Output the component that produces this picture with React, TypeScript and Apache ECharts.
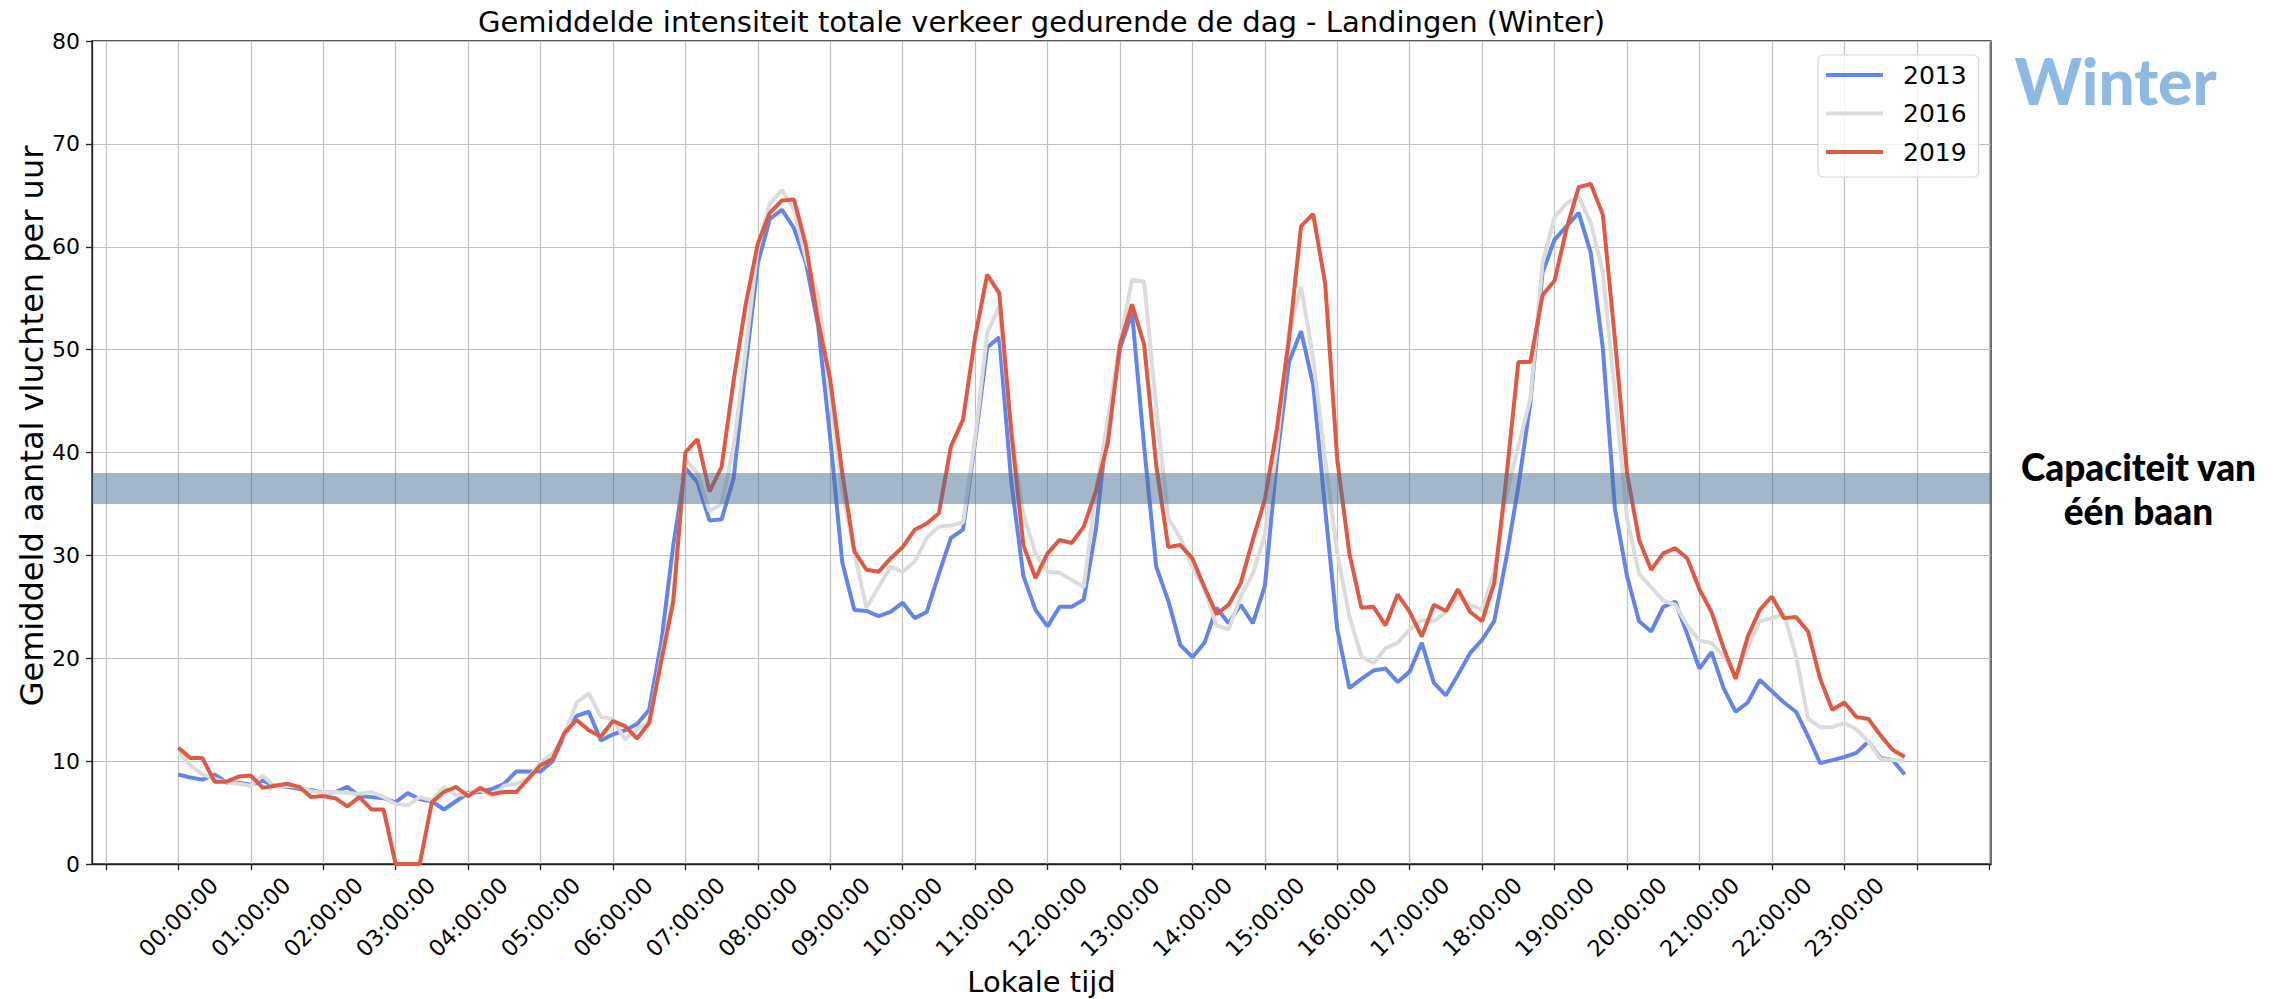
import React, { useEffect, useRef } from 'react';
import * as echarts from 'echarts';

// Time slots: every 10 minutes from 00:00 to 23:50 (value = hours)
const timeSlots: number[] = Array.from({ length: 144 }, (_, i) => i / 6);

// X axis ticks (hours) and labelled hours
const xTickHours = [-1, 0, 1, 2, 3, 4, 5, 6, 7, 8, 9, 10, 11, 12, 13, 14, 15, 16, 17, 18, 19, 20, 21, 22, 23, 24, 25];
const xLabelHours = [0, 1, 2, 3, 4, 5, 6, 7, 8, 9, 10, 11, 12, 13, 14, 15, 16, 17, 18, 19, 20, 21, 22, 23];

const seriesNames = ['2013', '2016', '2019'];

const values2013 = [
  8.7, 8.4, 8.2, 8.7, 7.9, 7.9,
  7.7, 8.1, 7.6, 7.5, 7.3, 7.2,
  6.9, 7.0, 7.5, 6.6, 6.5, 6.4,
  6.0, 6.9, 6.3, 6.1, 5.3, 6.1,
  6.9, 7.0, 7.3, 7.8, 9.0, 9.0,
  9.0, 10.0, 12.6, 14.4, 14.8, 12.0,
  12.6, 13.0, 13.6, 15.0, 21.5, 31.0,
  38.5, 37.1, 33.4, 33.5, 37.5, 48.4,
  58.4, 62.7, 63.6, 61.8, 58.4, 52.3,
  41.4, 29.3, 24.7, 24.6, 24.1, 24.5,
  25.4, 23.9, 24.5, 28.2, 31.7, 32.5,
  41.0, 50.2, 51.2, 37.1, 28.0, 24.7,
  23.1, 25.0, 25.0, 25.7, 32.5, 43.0,
  50.1, 53.6, 40.6, 28.9, 25.6, 21.3,
  20.1, 21.5, 24.9, 23.4, 25.2, 23.4,
  27.0, 39.3, 48.8, 51.8, 46.6, 34.5,
  22.8, 17.1, 18.0, 18.8, 19.0, 17.7,
  18.7, 21.5, 17.6, 16.4, 18.4, 20.5,
  21.8, 23.6, 29.7, 36.7, 44.9, 57.5,
  60.7, 62.0, 63.3, 59.4, 50.1, 34.5,
  28.0, 23.6, 22.6, 25.0, 25.5, 22.3,
  19.0, 20.6, 17.1, 14.8, 15.7, 17.9,
  16.8, 15.7, 14.8, 12.4, 9.8, 10.1,
  10.4, 10.8, 11.9, 10.3, 10.1, 8.7,
];

const values2016 = [
  10.9, 9.6, 8.7, 8.3, 7.9, 7.8,
  7.6, 8.6, 7.5, 7.6, 7.5, 7.1,
  6.9, 7.0, 6.9, 6.8, 7.0, 6.5,
  5.8, 5.7, 6.5, 6.2, 7.5, 6.7,
  6.8, 7.2, 6.6, 7.6, 7.8, 8.3,
  9.9, 10.7, 12.6, 15.7, 16.6, 14.3,
  14.1, 12.1, 13.1, 13.8, 20.0, 26.0,
  39.3, 38.0, 34.3, 35.0, 40.6, 50.0,
  60.0, 64.2, 65.5, 63.6, 58.8, 55.3,
  45.8, 36.2, 30.2, 24.9, 26.9, 28.9,
  28.4, 29.4, 31.7, 32.8, 32.9, 33.2,
  41.4, 51.6, 54.2, 42.0, 34.0, 30.2,
  28.4, 28.3, 27.6, 26.9, 36.2, 43.2,
  50.8, 56.8, 56.6, 44.5, 33.6, 31.7,
  28.9, 26.7, 23.2, 22.8, 26.0, 28.2,
  32.0, 40.6, 51.8, 56.1, 49.2, 39.3,
  30.2, 24.1, 20.2, 19.5, 21.0, 21.5,
  22.8, 23.7, 23.6, 24.5, 26.0, 25.2,
  24.7, 28.4, 35.8, 40.6, 45.3, 58.4,
  62.9, 64.2, 64.9, 62.3, 57.5, 45.8,
  33.6, 28.2, 26.9, 25.6, 25.2, 23.2,
  21.7, 21.5, 20.2, 18.4, 21.0, 23.6,
  23.9, 24.3, 20.2, 14.1, 13.3, 13.3,
  13.7, 13.1, 11.9, 10.2, 10.1, 10.0,
];

const values2019 = [
  11.3, 10.3, 10.3, 8.0, 8.0, 8.5,
  8.6, 7.4, 7.6, 7.8, 7.5, 6.5,
  6.6, 6.4, 5.6, 6.5, 5.3, 5.3,
  0.0, 0.0, 0.0, 6.0, 7.0, 7.5,
  6.6, 7.4, 6.8, 7.0, 7.0, 8.3,
  9.6, 10.2, 12.8, 14.0, 13.0, 12.4,
  13.9, 13.4, 12.2, 13.7, 19.7, 25.5,
  40.0, 41.3, 36.2, 38.6, 47.0, 54.4,
  60.3, 63.3, 64.5, 64.6, 60.1, 52.7,
  47.1, 38.0, 30.4, 28.6, 28.4, 29.7,
  30.8, 32.5, 33.1, 34.1, 40.6, 43.2,
  51.2, 57.3, 55.5, 42.0, 31.0, 27.8,
  30.2, 31.5, 31.2, 32.8, 36.2, 41.0,
  50.5, 54.4, 50.5, 38.8, 30.8, 31.0,
  29.7, 26.9, 24.3, 25.2, 27.3, 31.5,
  35.4, 42.3, 51.0, 62.0, 63.2, 56.4,
  39.3, 30.2, 24.9, 25.0, 23.2, 26.2,
  24.5, 22.1, 25.2, 24.6, 26.7, 24.5,
  23.6, 27.3, 37.5, 48.8, 48.8, 55.3,
  56.7, 61.8, 65.8, 66.1, 63.1, 51.0,
  38.0, 31.5, 28.6, 30.2, 30.7, 29.7,
  26.7, 24.5, 21.0, 18.0, 22.1, 24.7,
  26.0, 23.9, 24.0, 22.6, 18.0, 15.0,
  15.7, 14.3, 14.1, 12.5, 11.1, 10.4,
];

// Capacity of one runway (band)
const capacityBand = [35, 38];

const COLORS = ['#6385EA', '#DCDCDC', '#DF5A45'];
const FONT = '"DejaVu Sans", "Liberation Sans", sans-serif';
const BOLD_FONT = 'Lato, "Open Sans", sans-serif';

const pad2 = (n: number) => (n < 10 ? '0' + n : '' + n);

export default function App() {
  const ref = useRef<HTMLDivElement>(null);

  useEffect(() => {
    if (!ref.current) return;
    const chart = echarts.init(ref.current, undefined, { renderer: 'svg' });
    const allValues = [values2013, values2016, values2019];

    const lineSeries = seriesNames.map((name, si) => ({
      name,
      type: 'line',
      data: timeSlots.map((t, i) => [t, allValues[si][i]]),
      symbol: 'none',
      showSymbol: false,
      z: 2 + si,
      lineStyle: { color: COLORS[si], width: 4 },
      itemStyle: { color: COLORS[si] },
    }));

    const option: any = {
      animation: false,
      backgroundColor: '#ffffff',
      textStyle: { fontFamily: FONT },
      grid: {
        left: 92,
        right: 294,
        top: 41,
        bottom: 135,
        show: true,
        borderColor: '#222',
        borderWidth: 1.3,
        backgroundColor: 'transparent',
      },
      legend: {
        data: seriesNames,
        orient: 'vertical',
        left: 1818,
        top: 55,
        icon: 'rect',
        itemWidth: 57,
        itemHeight: 4,
        itemGap: 8.5,
        padding: [5, 12, 10, 8],
        backgroundColor: 'rgba(255,255,255,0.8)',
        borderColor: '#d8d8d8',
        borderWidth: 1.2,
        borderRadius: 5,
        textStyle: {
          fontSize: 25,
          color: '#000',
          fontFamily: FONT,
          lineHeight: 30,
          padding: [0, 0, 0, 15],
        },
      },
      xAxis: {
        type: 'value',
        min: -1.19167,
        max: 25.025,
        axisLine: { show: true, onZero: false, lineStyle: { color: '#222', width: 1.3 } },
        axisTick: {
          show: true,
          customValues: xTickHours,
          length: 6,
          lineStyle: { color: '#222', width: 1.3 },
        },
        axisLabel: {
          customValues: xLabelHours,
          formatter: (v: number) => pad2(Math.round(v)) + ':00:00',
          rotate: 45,
          align: 'center',
          verticalAlign: 'middle',
          margin: 53,
          fontSize: 22.5,
          color: '#000',
          fontFamily: FONT,
        },
        splitLine: { show: true, lineStyle: { color: '#c0c0c0', width: 1.2 } },
      },
      yAxis: {
        type: 'value',
        min: 0,
        max: 80,
        interval: 10,
        axisLine: { show: true, onZero: false, lineStyle: { color: '#222', width: 1.3 } },
        axisTick: { show: true, length: 6, lineStyle: { color: '#222', width: 1.3 } },
        axisLabel: { margin: 12, fontSize: 22, color: '#000', fontFamily: FONT },
        splitLine: { show: true, lineStyle: { color: '#c0c0c0', width: 1.2 } },
      },
      series: [
        ...lineSeries,
        {
          name: 'capaciteit',
          type: 'line',
          data: [],
          z: 10,
          silent: true,
          markArea: {
            silent: true,
            z: 10,
            itemStyle: { color: 'rgba(74,110,148,0.5)' },
            data: [[{ yAxis: capacityBand[0] }, { yAxis: capacityBand[1] }]],
          },
        },
      ],
      graphic: [
        {
          type: 'text',
          x: 1041.5,
          y: 21.5,
          style: {
            text: 'Gemiddelde intensiteit totale verkeer gedurende de dag - Landingen (Winter)',
            fontSize: 29,
            fontFamily: FONT,
            fill: '#000',
            align: 'center',
            verticalAlign: 'middle',
          },
        },
        {
          type: 'text',
          x: 1041.5,
          y: 982,
          style: {
            text: 'Lokale tijd',
            fontSize: 29,
            fontFamily: FONT,
            fill: '#000',
            align: 'center',
            verticalAlign: 'middle',
          },
        },
        {
          type: 'text',
          x: 32,
          y: 426,
          rotation: Math.PI / 2,
          style: {
            text: 'Gemiddeld aantal vluchten per uur',
            fontSize: 32,
            fontFamily: FONT,
            fill: '#000',
            align: 'center',
            verticalAlign: 'middle',
          },
        },
        {
          type: 'text',
          x: 2115.5,
          y: 80.5,
          style: {
            text: 'Winter',
            fontSize: 64,
            fontWeight: 900,
            fontFamily: BOLD_FONT,
            fill: '#8DB9E2',
            align: 'center',
            verticalAlign: 'middle',
          },
        },
        {
          type: 'text',
          x: 2138.5,
          y: 466.5,
          style: {
            text: 'Capaciteit van',
            fontSize: 37,
            fontWeight: 900,
            fontFamily: BOLD_FONT,
            fill: '#000',
            align: 'center',
            verticalAlign: 'middle',
          },
        },
        {
          type: 'text',
          x: 2138.5,
          y: 510,
          style: {
            text: 'één baan',
            fontSize: 37,
            fontWeight: 900,
            fontFamily: BOLD_FONT,
            fill: '#000',
            align: 'center',
            verticalAlign: 'middle',
          },
        },
      ],
    };

    chart.setOption(option);
    return () => chart.dispose();
  }, []);

  return (
    <div
      ref={ref}
      style={{ position: 'absolute', left: 0, top: 0, width: 2285, height: 999, background: '#fff' }}
    />
  );
}
